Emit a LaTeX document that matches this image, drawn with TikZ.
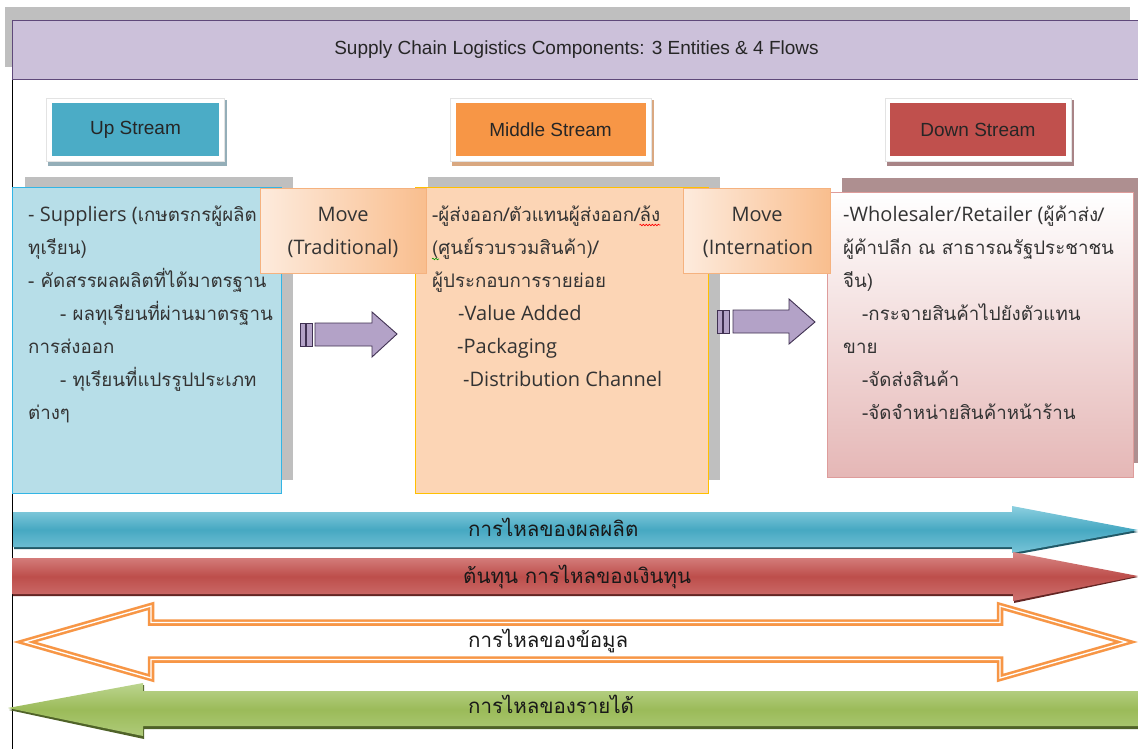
\documentclass[tikz,border=0pt]{standalone}
\usepackage{fontspec}
\setmainfont{Liberation Sans}
\newfontfamily\thaifont[Script=Thai]{Loma}
\newfontfamily\latfont{Open Sans}
\newcommand\latpart[1]{{\latfont\fontsize{20}{22}\selectfont #1}}
\usetikzlibrary{decorations.pathmorphing}

\definecolor{bandfill}{HTML}{CCC1DA}
\definecolor{bandline}{HTML}{5F497A}
\definecolor{pageshadow}{HTML}{BFBFBF}
\definecolor{upcol}{HTML}{4BACC6}
\definecolor{midcol}{HTML}{F79646}
\definecolor{downcol}{HTML}{C0504D}
\definecolor{upshad}{HTML}{94AEB8}
\definecolor{midshad}{HTML}{D9A881}
\definecolor{downshad}{HTML}{A88486}
\definecolor{frameline}{HTML}{E3E3E3}
\definecolor{upfill}{HTML}{B7DEE8}
\definecolor{upline}{HTML}{33B5E5}
\definecolor{midfill}{HTML}{FCD5B5}
\definecolor{midline}{HTML}{FFC000}
\definecolor{downline}{HTML}{DE9C9B}
\definecolor{downbot}{HTML}{E5B7B6}
\definecolor{downshadow}{HTML}{AE8F90}
\definecolor{movelight}{HTML}{FDEBDD}
\definecolor{movedark}{HTML}{F9BE8E}
\definecolor{moveedge}{HTML}{F5B27F}
\definecolor{txt}{HTML}{333333}
\definecolor{parrowfill}{HTML}{B3A2C7}
\definecolor{parrowline}{HTML}{403152}
\definecolor{bluelight}{HTML}{8DD0E0}
\definecolor{bluemid}{HTML}{46A8C2}
\definecolor{bluedark}{HTML}{215967}
\definecolor{redlight}{HTML}{DA8A88}
\definecolor{redmid}{HTML}{BD4E4B}
\definecolor{reddark}{HTML}{632523}
\definecolor{greenlight}{HTML}{BCD58F}
\definecolor{greenmid}{HTML}{9BBB59}
\definecolor{greendark}{HTML}{4F6228}
\definecolor{orangeline}{HTML}{F79646}

\begin{document}
\begin{tikzpicture}[x=1pt,y=-1pt,
  hdr/.style={minimum height=53pt, inner sep=0pt, font=\fontsize{19}{22}\selectfont, text=black!85},
  hdrframe/.style={fill=white, draw=frameline, line width=0.6pt},
  contentbox/.style={minimum height=306pt, inner sep=0pt, anchor=north west},
  movebox/.style={left color=movelight, right color=movedark, draw=moveedge, line width=0.5pt,
     minimum height=85pt, inner sep=0pt, anchor=north west},
  bt/.style={anchor=base west, inner sep=0pt, font=\thaifont\fontsize{18.7}{22}\selectfont, text=txt},
  mv/.style={anchor=base, inner sep=0pt, font=\latfont\fontsize{20}{22}\selectfont, text=txt},
  fl/.style={anchor=base west, inner sep=0pt, font=\thaifont\fontsize{20.5}{22}\selectfont, text=black!90},
  parrow/.style={fill=parrowfill, draw=parrowline, line width=0.9pt, line join=miter},
  squiggle/.style={line width=0.6pt, decorate, decoration={snake, amplitude=0.8pt, segment length=3pt}},
]
\useasboundingbox (0,0) rectangle (1138,749);
\fill[white] (0,0) rectangle (1138,749);

% page frame and title band
\fill[pageshadow] (5,7) rectangle (1130,67);
\fill[white] (12,20) rectangle (1138,749);
\draw[black, line width=1pt] (12,79) -- (12,749);
\node[fill=bandfill, draw=bandline, line width=1pt, minimum width=1128pt, minimum height=59pt,
      inner sep=0pt, anchor=north west, font=\fontsize{19}{22}\selectfont, text=black!85] (title) at (12,20)
      {Supply Chain Logistics Components: 3 Entities \& 4 Flows};

% stream headers
\fill[upshad] (48,100) rectangle (227,166);
\draw[hdrframe] (46,98) rectangle (224,161);
\node[hdr, fill=upcol, minimum width=167pt] (up) at (135.5,129.5) {Up Stream};

\fill[midshad] (452,100) rectangle (654,166);
\draw[hdrframe] (450,98) rectangle (651,161);
\node[hdr, fill=midcol, minimum width=190pt] (mid) at (550.5,129.5) {Middle Stream};

\fill[downshad] (887,100) rectangle (1074,166);
\draw[hdrframe] (885,98) rectangle (1071,161);
\node[hdr, fill=downcol, minimum width=176pt] (down) at (978,129.5) {Down Stream};

% content shadows
\fill[pageshadow] (25,177) rectangle (293,480);
\fill[pageshadow] (428,177) rectangle (720,480);
\fill[downshadow] (842,178) rectangle (1140,463);

% content boxes
\node[contentbox, fill=upfill, draw=upline, line width=1.2pt, minimum width=269pt] (upbox) at (12,187) {};
\node[contentbox, fill=midfill, draw=midline, line width=1pt, minimum width=293pt] (midbox) at (415,187) {};
\node[contentbox, top color=white, bottom color=downbot, draw=downline, line width=1.2pt,
      minimum width=306pt, minimum height=285pt] (downbox) at (827,192) {};

% move boxes
\node[movebox, minimum width=166pt] (movea) at (260,188) {};
\node[movebox, minimum width=147pt] (moveb) at (683,188) {};

% texts: up stream
\node[bt] (u1) at (28,221) {\latpart{- Suppliers (}เกษตรกรผู้ผลิต};
\node[bt] (u2) at (28,254) {ทุเรียน)};
\node[bt] (u3) at (28,287) {- คัดสรรผลผลิตที่ได้มาตรฐาน};
\node[bt] (u4) at (60,320) {- ผลทุเรียนที่ผ่านมาตรฐาน};
\node[bt] (u5) at (28,353) {การส่งออก};
\node[bt] (u6) at (60,386) {- ทุเรียนที่แปรรูปประเภท};
\node[bt] (u7) at (28,419) {ต่างๆ};

% texts: middle stream
\node[bt] (m1) at (432,221) {-ผู้ส่งออก/ตัวแทนผู้ส่งออก/ล้ง};
\node[bt] (m2) at (432,254) {(ศูนย์รวบรวมสินค้า)/};
\node[bt] (m3) at (432,287) {ผู้ประกอบการรายย่อย};
\node[bt] (m4) at (458,320) {\latpart{-Value Added}};
\node[bt] (m5) at (457,353) {\latpart{-Packaging}};
\node[bt] (m6) at (463,386) {\latpart{-Distribution Channel}};
\draw[red, squiggle] ([xshift=-21pt,yshift=-4pt]m1.base east) -- ([yshift=-4pt]m1.base east);
\draw[green!60!black, squiggle] ([yshift=-5pt]m2.base west) -- ([xshift=7pt,yshift=-5pt]m2.base west);

% texts: down stream
\node[bt] (d1) at (843,221) {\latpart{-Wholesaler/Retailer (}ผู้ค้าส่ง/};
\node[bt] (d2) at (843,254) {ผู้ค้าปลีก ณ สาธารณรัฐประชาชน};
\node[bt] (d3) at (843,287) {จีน)};
\node[bt] (d4) at (862,320) {-กระจายสินค้าไปยังตัวแทน};
\node[bt] (d5) at (843,353) {ขาย};
\node[bt] (d6) at (862,386) {-จัดส่งสินค้า};
\node[bt] (d7) at (862,419) {-จัดจำหน่ายสินค้าหน้าร้าน};

% move texts
\node[mv] (ma1) at (343,221) {Move};
\node[mv] (ma2) at (343,254) {(Traditional)};
\node[mv] (mb1) at (757,221) {Move};
\node[mv] (mb2) at (758,254) {(Internation};

% purple block arrows
\draw[parrow] (300,323) rectangle (305,346);
\draw[parrow] (306.5,323) rectangle (312,346);
\draw[parrow] (315,323) -- (372,323) -- (372,312) -- (397,334) -- (372,357) -- (372,346) -- (315,346) -- cycle;

\draw[parrow] (717,310) rectangle (722,333);
\draw[parrow] (723.5,310) rectangle (729,333);
\draw[parrow] (733,310) -- (789,310) -- (789,299) -- (815,322) -- (789,344) -- (789,333) -- (733,333) -- cycle;

% flow arrows
\fill[bluedark] (14,514) -- (1012,514) -- (1012,508) -- (1138,532) -- (1013,555) -- (1013,549) -- (14,549) -- cycle;
\shade[top color=bluelight, bottom color=bluelight!70!bluemid, middle color=bluemid]
  (13,512) -- (1012,512) -- (1012,506) -- (1138,530) -- (1012,553) -- (1012,547) -- (13,547) -- cycle;

\fill[reddark] (13,560) -- (1013,560) -- (1013,554) -- (1138,577) -- (1014,603) -- (1014,596) -- (13,596) -- cycle;
\shade[top color=redlight, bottom color=redlight!60!redmid, middle color=redmid]
  (12,558) -- (1013,558) -- (1013,552) -- (1138,576) -- (1013,601) -- (1013,594) -- (12,594) -- cycle;

\draw[orangeline, line width=2.6pt, double=white, double distance=1.3pt, line join=miter]
  (25,642) -- (151,606) -- (151,622.5) -- (1000,622.5) -- (1000,606) -- (1126,642)
  -- (1000,678) -- (1000,659.5) -- (151,659.5) -- (151,678) -- cycle;

\fill[greendark] (9,710) -- (144,685) -- (144,693) -- (1140,693) -- (1140,729) -- (144,729) -- (144,739) -- cycle;
\shade[top color=greenlight, bottom color=greenlight!60!greenmid, middle color=greenmid]
  (8,708) -- (143,683) -- (143,691) -- (1140,691) -- (1140,726) -- (143,726) -- (143,736) -- cycle;

% flow labels
\node[fl] (f1) at (468,536) {การไหลของผลผลิต};
\node[fl] (f2) at (463,583) {ต้นทุน การไหลของเงินทุน};
\node[fl] (f3) at (468,647) {การไหลของข้อมูล};
\node[fl] (f4) at (468,713) {การไหลของรายได้};
\end{tikzpicture}
\end{document}
